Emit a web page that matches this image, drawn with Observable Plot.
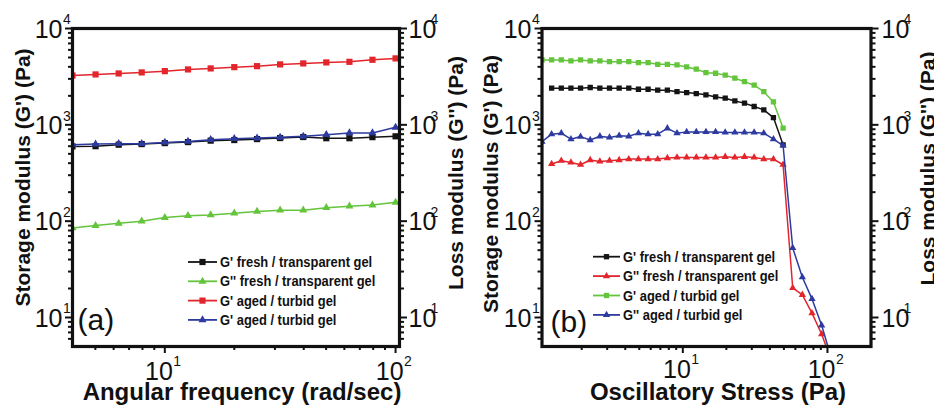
<!DOCTYPE html>
<html><head><meta charset="utf-8">
<script src="https://cdn.jsdelivr.net/npm/d3@7"></script>
<script src="https://cdn.jsdelivr.net/npm/@observablehq/plot@0.6"></script>
<style>
html,body{margin:0;padding:0;background:#fff;}
#wrap{position:relative;width:934px;height:407px;overflow:hidden;background:#fff;}
#pa{position:absolute;left:0;top:0;}
#pb{position:absolute;left:467px;top:0;}
svg text{font-family:"Liberation Sans",Arial,sans-serif;fill:#111;}
</style></head><body><div id="wrap"><div id="pa"></div><div id="pb"></div></div>
<script>
// ---------- Panel (a): frequency sweep ----------
const freq = [3.98, 5.01, 6.31, 7.94, 10, 12.6, 15.8, 20.0, 25.1, 31.6, 39.8, 50.1, 63.1, 79.4, 100];
const aGpFresh   = [597, 600, 622, 631, 646, 662, 685, 695, 711, 729, 747, 726, 726, 745, 760];
const aGppFresh  = [85, 90, 95, 100, 109, 114, 116, 121, 126, 130, 130, 138, 143, 147, 157];
const aGpAgedSq  = [3250, 3335, 3415, 3500, 3610, 3760, 3850, 3970, 4065, 4240, 4340, 4445, 4510, 4735, 4895];
const aGpAgedTri = [622, 631, 637, 637, 657, 673, 701, 718, 729, 741, 759, 791, 822, 822, 942];
const aNames = ["G' fresh / transparent gel", "G'' fresh / transparent gel", "G' aged / turbid gel", "G' aged / turbid gel"];

// ---------- Panel (b): stress sweep ----------
const stress = [1.063, 1.239, 1.445, 1.685, 1.964, 2.290, 2.670, 3.113, 3.630, 4.232, 4.934, 5.753, 6.707, 7.820, 9.117,
  10.63, 12.39, 14.45, 16.85, 19.64, 22.90, 26.70, 31.13, 36.30, 42.32, 49.34, 57.53, 67.07, 78.20, 91.17, 106.3];
const bGpFresh  = [null, 2400, 2400, 2400, 2400, 2440, 2400, 2400, 2400, 2400, 2340, 2340, 2290, 2290, 2210,
  2160, 2110, 2050, 1950, 1890, 1770, 1680, 1550, 1430, 1190, 620, null, null, null, null, null];
const bGppFresh = [null, 392, 424, 407, 385, 431, 417, 424, 431, 441, 441, 441, 441, 452, 459,
  459, 459, 459, 459, 466, 459, 466, 459, 441, 441, 385, 20.3, 17.2, 11.1, 6.7, 3.6];
const bGpAged   = [4720, 4720, 4720, 4610, 4720, 4610, 4610, 4530, 4530, 4530, 4420, 4420, 4250, 4250, 4190,
  3990, 3780, 3480, 3430, 3280, 3050, 2810, 2580, 2210, 1730, 925, null, null, null, null, null];
const bGppAged  = [670, 800, 820, 710, 755, 695, 760, 740, 770, 760, 820, 800, 800, 920, 820,
  845, 845, 845, 845, 835, 835, 835, 835, 820, 710, 610, 52.7, 26.2, 15.6, 8.3, 3.8];
const bNames = ["G' fresh / transparent gel", "G'' fresh / transparent gel", "G' aged / turbid gel", "G'' aged / turbid gel"];

// ---------- ticks ----------
const yMajor = [10, 100, 1000, 10000];
const yExp = ["1", "2", "3", "4"];
const yMinor = [6, 7, 8, 9, 20, 30, 40, 50, 60, 70, 80, 90, 200, 300, 400, 500, 600, 700, 800, 900, 2000, 3000, 4000, 5000, 6000, 7000, 8000, 9000];
const aXMajor = [10, 100], aXExp = ["1", "2"];
const aXMinor = [5, 6, 7, 8, 9, 20, 30, 40, 50, 60, 70, 80, 90];
const bXMajor = [10, 100], bXExp = ["1", "2"];
const bXMinor = [2, 3, 4, 5, 6, 7, 8, 9, 20, 30, 40, 50, 60, 70, 80, 90];

const BLACK = "#141414", RED = "#e3252c", GREEN = "#64c43c", BLUE = "#2d3aa0";

function panel(o) {
  const marks = [];
  const ts = {tickFormat: () => "", label: null, stroke: "#111", strokeWidth: 2};
  marks.push(Plot.axisX(o.xMinor, {anchor: "bottom", tickSize: 4, ...ts}));
  marks.push(Plot.axisX(o.xMajor, {anchor: "bottom", tickSize: 7, ...ts}));
  for (const a of ["left", "right"]) {
    marks.push(Plot.axisY(yMinor, {anchor: a, tickSize: 4, ...ts}));
    marks.push(Plot.axisY(yMajor, {anchor: a, tickSize: 7, ...ts}));
  }
  o.series.forEach(s => {
    const rows = o.x.map((x, i) => ({x, y: s.values[i]})).filter(d => d.y != null);
    marks.push(Plot.line(rows, {x: "x", y: "y", stroke: s.color, strokeWidth: 1.5, clip: true}));
    marks.push(Plot.dot(rows, {x: "x", y: "y", symbol: s.symbol, r: s.symbol === "square" ? o.rs : o.rt, fill: s.color, stroke: "none", clip: true}));
  });
  marks.push(Plot.frame({stroke: "#111", strokeWidth: 3.2}));
  // y tick labels (both sides)
  const yl = yMajor.map((v, i) => ({v, e: yExp[i]}));
  const mid = {lineAnchor: "middle"};
  marks.push(Plot.text(yl, {y: "v", text: () => "10", frameAnchor: "left", textAnchor: "end", dx: o.lDx, dy: 1, fontSize: 25, ariaLabel: "tl", ...mid}));
  marks.push(Plot.text(yl, {y: "v", text: "e", frameAnchor: "left", textAnchor: "start", dx: o.lDx + 0.5, dy: -8.5, fontSize: 14, ariaLabel: "tl", ...mid}));
  marks.push(Plot.text(yl, {y: "v", text: () => "10", frameAnchor: "right", textAnchor: "start", dx: o.rDx, dy: 1, fontSize: 25, ariaLabel: "tl", ...mid}));
  marks.push(Plot.text(yl, {y: "v", text: "e", frameAnchor: "right", textAnchor: "start", dx: o.rDx + 22, dy: -8.5, fontSize: 14, ariaLabel: "tl", ...mid}));
  // x tick labels
  const xl = o.xMajor.map((v, i) => ({v, e: o.xExp[i]}));
  marks.push(Plot.text(xl, {x: "v", text: () => "10", frameAnchor: "bottom", textAnchor: "end", dx: 8, dy: o.xDy, fontSize: 25, ariaLabel: "tl", ...mid}));
  marks.push(Plot.text(xl, {x: "v", text: "e", frameAnchor: "bottom", textAnchor: "start", dx: 8.5, dy: o.xDy - 10, fontSize: 14, ariaLabel: "tl", ...mid}));
  // titles
  marks.push(Plot.text([o.xTitle], {frameAnchor: "bottom", textAnchor: "middle", dx: o.xtDx, dy: 45.5, fontSize: 24, fontWeight: "bold", ariaLabel: "xt", ...mid}));
  marks.push(Plot.text([o.yTitle], {frameAnchor: "left", textAnchor: "middle", rotate: -90, dx: o.ytDx, dy: o.ytDy, fontSize: 21, fontWeight: "bold", ariaLabel: "ytl", ...mid}));
  marks.push(Plot.text([o.y2Title], {frameAnchor: "right", textAnchor: "middle", rotate: -90, dx: o.y2tDx, dy: o.y2tDy, fontSize: 21, fontWeight: "bold", ariaLabel: "ytr", ...mid}));
  marks.push(Plot.text([o.tag], {frameAnchor: "bottom-left", textAnchor: "start", dx: o.tagDx, dy: o.tagDy, fontSize: 30, ariaLabel: "tag", ...mid}));

  const svg = Plot.plot({
    width: 467, height: 407,
    marginLeft: o.ml, marginRight: o.mr, marginTop: 28, marginBottom: 61,
    x: {type: "log", domain: o.xDomain, label: null},
    y: {type: "log", domain: [5, 10000], label: null},
    style: {background: "transparent", overflow: "visible"},
    marks
  });
  document.getElementById(o.el).appendChild(svg);

  // legend
  const g = d3.select(svg).append("g").attr("text-anchor", "start");
  o.series.forEach((s, i) => {
    const y = o.lgY + i * o.lgStep;
    g.append("line").attr("x1", o.lgX0).attr("x2", o.lgX1).attr("y1", y).attr("y2", y)
      .attr("stroke", s.color).attr("stroke-width", 1.8);
    const r = s.symbol === "square" ? o.rs : o.rt;
    g.append("path").attr("d", d3.symbol(s.symbol === "square" ? d3.symbolSquare : d3.symbolTriangle, Math.PI * r * r)())
      .attr("transform", `translate(${(o.lgX0 + o.lgX1) / 2},${y})`).attr("fill", s.color);
    g.append("text").attr("x", o.lgTx).attr("y", y).attr("dy", "0.35em").attr("text-anchor", "start")
      .attr("font-size", 14.5).attr("font-weight", "bold").attr("class", "lg").text(s.name);
  });

  const cond = (sel, f) => svg.querySelectorAll(sel).forEach(t => {
    const w = t.getComputedTextLength();
    t.setAttribute("textLength", (w * f).toFixed(1));
    t.setAttribute("lengthAdjust", "spacingAndGlyphs");
  });
  const setLen = (sel, L) => svg.querySelectorAll(sel).forEach(t => {
    t.setAttribute("textLength", L);
    t.setAttribute("lengthAdjust", "spacingAndGlyphs");
  });
  cond('g[aria-label="tl"] text', 0.8);
  cond('g[aria-label="tag"] text', 0.83);
  cond('text.lg', 0.89);
  setLen('g[aria-label="xt"] text', o.xtLen);
  setLen('g[aria-label="ytl"] text', o.ytLen);
  setLen('g[aria-label="ytr"] text', o.y2tLen);
}

panel({
  el: "pa", ml: 72, mr: 68, xDomain: [3.98, 104], x: freq,
  xMajor: aXMajor, xExp: aXExp, xMinor: aXMinor, xDy: 25,
  rs: 3.5, rt: 3.0,
  series: [
    {name: aNames[0], values: aGpFresh, color: BLACK, symbol: "square"},
    {name: aNames[1], values: aGppFresh, color: GREEN, symbol: "triangle"},
    {name: aNames[2], values: aGpAgedSq, color: RED, symbol: "square"},
    {name: aNames[3], values: aGpAgedTri, color: BLUE, symbol: "triangle"}
  ],
  lDx: -10, rDx: 9,
  xTitle: "Angular frequency (rad/sec)", xtDx: 6, xtLen: 253,
  yTitle: "Storage modulus (G') (Pa)", ytDx: -49.5, ytDy: -10, ytLen: 297,
  y2Title: "Loss modulus (G'') (Pa)", y2tDx: 57, y2tDy: -14.5, y2tLen: 285,
  tag: "(a)", tagDx: 5, tagDy: -26,
  lgX0: 188, lgX1: 217, lgTx: 220, lgY: 262, lgStep: 19.3
});

panel({
  el: "pb", ml: 74.5, mr: 63.5, xDomain: [1.063, 200], x: stress,
  xMajor: bXMajor, xExp: bXExp, xMinor: bXMinor, xDy: 23,
  rs: 3.0, rt: 2.7,
  series: [
    {name: bNames[0], values: bGpFresh, color: BLACK, symbol: "square"},
    {name: bNames[1], values: bGppFresh, color: RED, symbol: "triangle"},
    {name: bNames[2], values: bGpAged, color: GREEN, symbol: "square"},
    {name: bNames[3], values: bGppAged, color: BLUE, symbol: "triangle"}
  ],
  lDx: -10.5, rDx: 10.5,
  xTitle: "Oscillatory Stress (Pa)", xtDx: 11.5, xtLen: 203,
  yTitle: "Storage modulus (G') (Pa)", ytDx: -50.5, ytDy: -3.5, ytLen: 303,
  y2Title: "Loss modulus (G'') (Pa)", y2tDx: 57, y2tDy: -19, y2tLen: 280,
  tag: "(b)", tagDx: 8.5, tagDy: -24.5,
  lgX0: 126, lgX1: 153, lgTx: 156, lgY: 256.7, lgStep: 19.4
});
</script></body></html>
